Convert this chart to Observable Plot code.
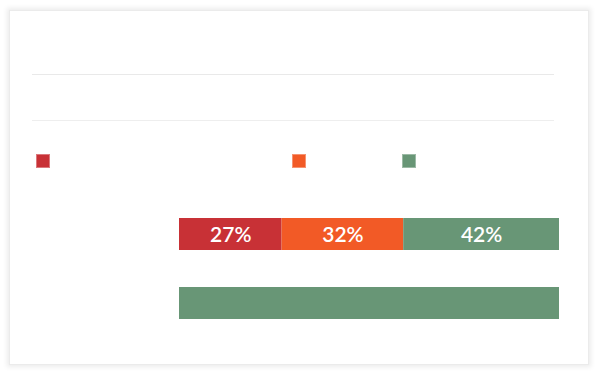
<!DOCTYPE html>
<html>
<head>
<meta charset="utf-8">
<script src="https://cdn.jsdelivr.net/npm/d3@7"></script>
<script src="https://cdn.jsdelivr.net/npm/@observablehq/plot@0.6"></script>
<style>
  html, body { margin: 0; padding: 0; background: #fff; width: 600px; height: 375px; overflow: hidden; font-family: Lato, "Open Sans", sans-serif; }
  .card { position: absolute; left: 9px; top: 10px; width: 580px; height: 355px; background: #fff;
          box-shadow: 0 0 5px 2px rgba(0,0,0,0.08); border: 1px solid #ebebeb; box-sizing: border-box; }
  .title { position: absolute; left: 32px; top: 10px; width: 522px; height: 65px; border-bottom: 1px solid #e9e9e9; box-sizing: border-box; }
  .subtitle { position: absolute; left: 32px; top: 75px; width: 522px; height: 46px; border-bottom: 1px solid #eeeeee; box-sizing: border-box; }
  .legend { position: absolute; left: 36px; top: 154px; display: flex; }
  .legend .item { display: flex; align-items: center; }
  .legend .item:nth-child(1) { width: 256px; }
  .legend .item:nth-child(2) { width: 110px; }
  .legend .sw { width: 14px; height: 14px; box-sizing: border-box; border: 1px solid rgba(255,255,255,0.35); }
  #chart { position: absolute; left: 0; top: 179px; }
</style>
</head>
<body>
<div class="card"></div>
<div class="title"></div>
<div class="subtitle"></div>
<div class="legend" id="legend"></div>
<div id="chart"></div>
<script>
const categories = ["row1", "row2"];
const series = ["s1", "s2", "s3"];
const colors = ["#c83136", "#f25a26", "#689676"];
const row1Values = [27, 32, 41];
const row2Values = [0, 0, 100];
const row1Labels = ["27%", "32%", "42%"];
const row2Labels = ["", "", ""];

const rows = [row1Values, row2Values];
const labels = [row1Labels, row2Labels];
const data = [];
categories.forEach((c, i) => {
  series.forEach((s, j) => {
    data.push({category: c, series: s, value: rows[i][j], label: labels[i][j]});
  });
});

// legend (labels are blank in the reference)
const legend = document.getElementById("legend");
series.forEach((s, j) => {
  const item = document.createElement("div");
  item.className = "item";
  const sw = document.createElement("div");
  sw.className = "sw";
  sw.style.background = colors[j];
  item.appendChild(sw);
  legend.appendChild(item);
});

const chart = Plot.plot({
  width: 600,
  height: 178,
  marginLeft: 179,
  marginRight: 41,
  marginTop: 0,
  marginBottom: 0,
  x: {domain: [0, 100], axis: null},
  y: {domain: categories, axis: null, padding: 0.543},
  color: {domain: series, range: colors},
  style: {fontFamily: "Lato, 'Open Sans', sans-serif", background: "transparent"},
  marks: [
    Plot.barX(data, Plot.stackX({x: "value", y: "category", fill: "series", z: "series", order: series})),
    Plot.textX(data, Plot.stackX({x: "value", y: "category", z: "series", text: "label", order: series,
      fill: "white", fontSize: 21, fontWeight: 600, dy: 1}))
  ]
});
document.getElementById("chart").appendChild(chart);
</script>
</body>
</html>
